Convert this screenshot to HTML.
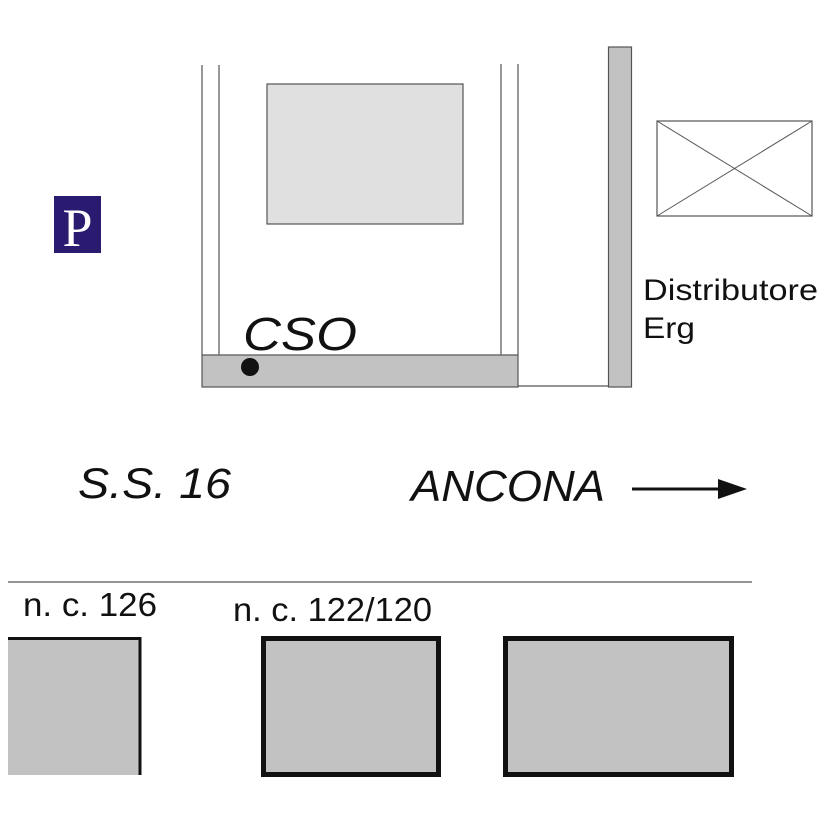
<!DOCTYPE html>
<html><head><meta charset="utf-8"><style>
html,body{margin:0;padding:0;background:#fff}
</style></head><body>
<svg width="827" height="827" viewBox="0 0 827 827" xmlns="http://www.w3.org/2000/svg" font-family="Liberation Sans, sans-serif">
<rect width="827" height="827" fill="#fff"/>
<rect x="54" y="196" width="47" height="57" fill="#2a1a70"/>
<text x="77.5" y="246" font-family="Liberation Serif, serif" font-size="54" fill="#fff" text-anchor="middle">P</text>
<g stroke="#555" stroke-width="1.2">
<line x1="202" y1="65" x2="202" y2="355"/>
<line x1="219" y1="65" x2="219" y2="355"/>
<line x1="501" y1="64" x2="501" y2="355"/>
<line x1="518" y1="64" x2="518" y2="355"/>
<line x1="518" y1="386" x2="608" y2="386"/>
</g>
<rect x="267" y="84" width="196" height="140" fill="#e0e0e0" stroke="#555" stroke-width="1.2"/>
<rect x="202" y="355" width="316" height="32" fill="#c2c2c2" stroke="#555" stroke-width="1.2"/>
<rect x="608.5" y="47" width="23" height="340" fill="#c2c2c2" stroke="#555" stroke-width="1.2"/>
<circle cx="250" cy="367" r="9" fill="#111"/>
<text x="243" y="350" font-size="46" font-style="italic" fill="#111" textLength="114" lengthAdjust="spacingAndGlyphs">CSO</text>
<rect x="657" y="121" width="155" height="95" fill="#fff" stroke="#555" stroke-width="1.2"/>
<line x1="657" y1="121" x2="812" y2="216" stroke="#555" stroke-width="1"/>
<line x1="812" y1="121" x2="657" y2="216" stroke="#555" stroke-width="1"/>
<text x="643" y="300" font-size="30" fill="#111" textLength="175" lengthAdjust="spacingAndGlyphs">Distributore</text>
<text x="643" y="338" font-size="30" fill="#111" textLength="52" lengthAdjust="spacingAndGlyphs">Erg</text>
<text x="78" y="498" font-size="43" font-style="italic" fill="#111" textLength="153" lengthAdjust="spacingAndGlyphs">S.S. 16</text>
<text x="411" y="501" font-size="44" font-style="italic" fill="#111" textLength="194" lengthAdjust="spacingAndGlyphs">ANCONA</text>
<line x1="632" y1="489" x2="722" y2="489" stroke="#111" stroke-width="3"/>
<polygon points="718,479 747,489 718,499" fill="#111"/>
<line x1="8" y1="582" x2="752" y2="582" stroke="#555" stroke-width="1.2"/>
<text x="23" y="616" font-size="33" fill="#111" textLength="134" lengthAdjust="spacingAndGlyphs">n. c. 126</text>
<text x="233" y="621" font-size="33" fill="#111" textLength="199" lengthAdjust="spacingAndGlyphs">n. c. 122/120</text>
<rect x="8" y="637" width="131" height="138" fill="#c2c2c2"/>
<line x1="8" y1="638.5" x2="141" y2="638.5" stroke="#111" stroke-width="3"/>
<line x1="140" y1="637" x2="140" y2="775" stroke="#111" stroke-width="3"/>
<rect x="263.5" y="638.5" width="175" height="136" fill="#c2c2c2" stroke="#111" stroke-width="5"/>
<rect x="505.5" y="638.5" width="226" height="136" fill="#c2c2c2" stroke="#111" stroke-width="5"/>
</svg>
</body></html>
